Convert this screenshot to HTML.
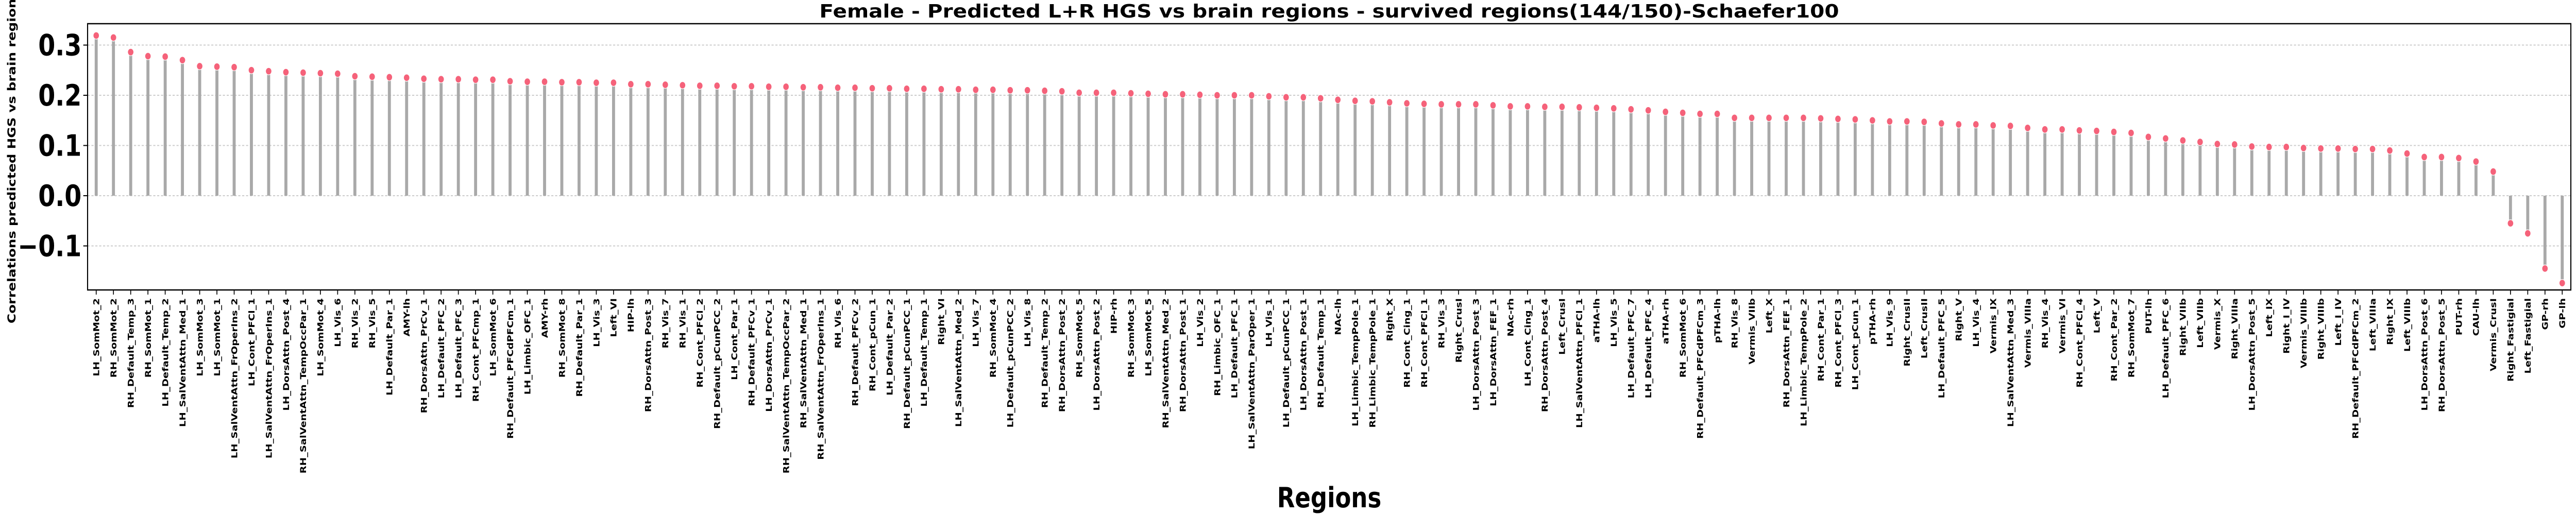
<!DOCTYPE html>
<html><head><meta charset="utf-8"><style>
html,body{margin:0;padding:0;background:#fff;width:100%;height:100%;overflow:hidden;}
svg{display:block;overflow:hidden;width:100vw;height:100vh;font-family:"DejaVu Sans","Liberation Sans",sans-serif;font-weight:bold;}
</style></head><body>
<svg id="chart" viewBox="0 0 6000 1000" preserveAspectRatio="none" xmlns="http://www.w3.org/2000/svg">
<text x="3096" y="34" font-size="36" text-anchor="middle" textLength="2375" lengthAdjust="spacingAndGlyphs">Female - Predicted L+R HGS vs brain regions - survived regions(144/150)-Schaefer100</text>
<text x="0" y="0" font-size="26" text-anchor="middle" transform="translate(36,305) rotate(-90)">Correlations predicted HGS vs brain regions</text>
<text x="3096" y="985" font-size="54" text-anchor="middle">Regions</text>
<g id="grid"></g>
<g id="stems"></g>
<g id="dots"></g>
<g id="yaxis"></g>
<g id="xaxis"></g>
<rect x="204" y="46" width="5784" height="517" fill="none" stroke="#000" stroke-width="2.5"/>
</svg>
<script>
const regions = ["LH_SomMot_2","RH_SomMot_2","RH_Default_Temp_3","RH_SomMot_1","LH_Default_Temp_2","LH_SalVentAttn_Med_1","LH_SomMot_3","LH_SomMot_1","LH_SalVentAttn_FrOperIns_2","LH_Cont_PFCl_1","LH_SalVentAttn_FrOperIns_1","LH_DorsAttn_Post_4","RH_SalVentAttn_TempOccPar_1","LH_SomMot_4","LH_Vis_6","RH_Vis_2",
"RH_Vis_5","LH_Default_Par_1","AMY-lh","RH_DorsAttn_PrCv_1","LH_Default_PFC_2","LH_Default_PFC_3","RH_Cont_PFCmp_1","LH_SomMot_6","RH_Default_PFCdPFCm_1","LH_Limbic_OFC_1","AMY-rh","RH_SomMot_8","RH_Default_Par_1","LH_Vis_3","Left_VI","HIP-lh",
"RH_DorsAttn_Post_3","RH_Vis_7","RH_Vis_1","RH_Cont_PFCl_2","RH_Default_pCunPCC_2","LH_Cont_Par_1","RH_Default_PFCv_1","LH_DorsAttn_PrCv_1","RH_SalVentAttn_TempOccPar_2","RH_SalVentAttn_Med_1","RH_SalVentAttn_FrOperIns_1","RH_Vis_6","RH_Default_PFCv_2","RH_Cont_pCun_1","LH_Default_Par_2","RH_Default_pCunPCC_1",
"LH_Default_Temp_1","Right_VI","LH_SalVentAttn_Med_2","LH_Vis_7","RH_SomMot_4","LH_Default_pCunPCC_2","LH_Vis_8","RH_Default_Temp_2","RH_DorsAttn_Post_2","RH_SomMot_5","LH_DorsAttn_Post_2","HIP-rh","RH_SomMot_3","LH_SomMot_5","RH_SalVentAttn_Med_2","RH_DorsAttn_Post_1",
"LH_Vis_2","RH_Limbic_OFC_1","LH_Default_PFC_1","LH_SalVentAttn_ParOper_1","LH_Vis_1","LH_Default_pCunPCC_1","LH_DorsAttn_Post_1","RH_Default_Temp_1","NAc-lh","LH_Limbic_TempPole_1","RH_Limbic_TempPole_1","Right_X","RH_Cont_Cing_1","RH_Cont_PFCl_1","RH_Vis_3","Right_CrusI",
"LH_DorsAttn_Post_3","LH_DorsAttn_FEF_1","NAc-rh","LH_Cont_Cing_1","RH_DorsAttn_Post_4","Left_CrusI","LH_SalVentAttn_PFCl_1","aTHA-lh","LH_Vis_5","LH_Default_PFC_7","LH_Default_PFC_4","aTHA-rh","RH_SomMot_6","RH_Default_PFCdPFCm_3","pTHA-lh","RH_Vis_8",
"Vermis_VIIb","Left_X","RH_DorsAttn_FEF_1","LH_Limbic_TempPole_2","RH_Cont_Par_1","RH_Cont_PFCl_3","LH_Cont_pCun_1","pTHA-rh","LH_Vis_9","Right_CrusII","Left_CrusII","LH_Default_PFC_5","Right_V","LH_Vis_4","Vermis_IX","LH_SalVentAttn_Med_3",
"Vermis_VIIIa","RH_Vis_4","Vermis_VI","RH_Cont_PFCl_4","Left_V","RH_Cont_Par_2","RH_SomMot_7","PUT-lh","LH_Default_PFC_6","Right_VIIb","Left_VIIb","Vermis_X","Right_VIIIa","LH_DorsAttn_Post_5","Left_IX","Right_I_IV",
"Vermis_VIIIb","Right_VIIIb","Left_I_IV","RH_Default_PFCdPFCm_2","Left_VIIIa","Right_IX","Left_VIIIb","LH_DorsAttn_Post_6","RH_DorsAttn_Post_5","PUT-rh","CAU-lh","Vermis_CrusI","Right_Fastigial","Left_Fastigial","GP-rh","GP-lh"];
const correlations = [0.319,0.315,0.286,0.278,0.277,0.270,0.258,0.257,0.256,0.250,0.248,0.246,0.245,0.244,0.243,
0.238,0.237,0.236,0.235,0.233,0.232,0.232,0.231,0.231,0.228,0.227,0.227,0.226,0.226,0.225,0.225,0.222,0.222,0.221,
0.220,0.219,0.219,0.218,0.218,0.217,0.217,0.216,0.216,0.215,0.215,0.214,0.214,0.213,0.213,0.212,0.212,0.211,0.211,0.210,0.210,
0.209,0.208,0.205,0.205,0.205,0.204,0.203,0.202,0.202,0.201,0.200,0.200,0.200,0.198,0.196,0.196,0.194,0.191,0.189,0.188,
0.186,0.184,0.183,0.182,0.182,0.182,0.180,0.178,0.178,0.177,0.177,0.176,0.175,0.174,0.172,0.170,0.167,0.165,0.163,0.163,
0.155,0.155,0.155,0.155,0.155,0.154,0.153,0.152,0.150,0.148,0.148,0.147,0.144,0.142,0.142,0.140,0.139,0.135,0.132,0.132,
0.130,0.129,0.127,0.125,0.117,0.114,0.110,0.107,0.103,0.102,0.098,0.097,0.097,0.095,0.094,0.094,0.093,0.093,0.090,0.084,
0.077,0.077,0.075,0.068,0.048,-0.055,-0.075,-0.145,-0.174];
const yTicks = [-0.1,0.0,0.1,0.2,0.3];
const yTickLabels = ["\u22120.1","0.0","0.1","0.2","0.3"];

const NS="http://www.w3.org/2000/svg";
const L=204,R=5988,T=46,B=563;
const yMin=-0.1877,yMax=0.3426;
function yScale(v){return B-(v-yMin)/(yMax-yMin)*(B-T);}
function xScale(i){return L+(i+0.5)*(R-L)/regions.length;}
function mk(tag,attrs,parent){const e=document.createElementNS(NS,tag);for(const k in attrs)e.setAttribute(k,attrs[k]);parent.appendChild(e);return e;}
const grid=document.getElementById('grid'),stems=document.getElementById('stems'),dots=document.getElementById('dots'),yaxis=document.getElementById('yaxis'),xaxis=document.getElementById('xaxis');
yTicks.forEach((t,k)=>{
  const y=yScale(t);
  const g=mk('line',{x1:L,x2:R,y1:y,y2:y,stroke:'#cccccc','stroke-width':2,'stroke-dasharray':'5,4'},grid);
  
  
  const tk=mk('line',{x1:L-10,x2:L,y1:y,y2:y,stroke:'#000','stroke-width':2},yaxis);
  
  
  const tx=mk('text',{x:L-14,y:y+20,'font-size':57,'text-anchor':'end'},yaxis);
  tx.textContent=yTickLabels[k];
  
  
});
const y0=yScale(0);
regions.forEach((name,i)=>{
  const x=xScale(i),y=yScale(correlations[i]);
  const s=mk('line',{x1:x,x2:x,y1:y0,y2:y,stroke:'#a9a9a9','stroke-width':7},stems);
  
  
  const d=mk('ellipse',{cx:x,cy:y,rx:7,ry:7,fill:'#f5627a',stroke:'#fff','stroke-width':1.2},dots);
  
  
  const tk=mk('line',{x1:x,x2:x,y1:B,y2:B+9,stroke:'#000','stroke-width':2},xaxis);
  
  
  const tx=mk('text',{x:0,y:0,'font-size':19.5,'text-anchor':'end',transform:'translate('+(x+7)+','+(B+16)+') rotate(-90)'},xaxis);
  tx.textContent=name;
  
  
});
</script>
</body></html>
